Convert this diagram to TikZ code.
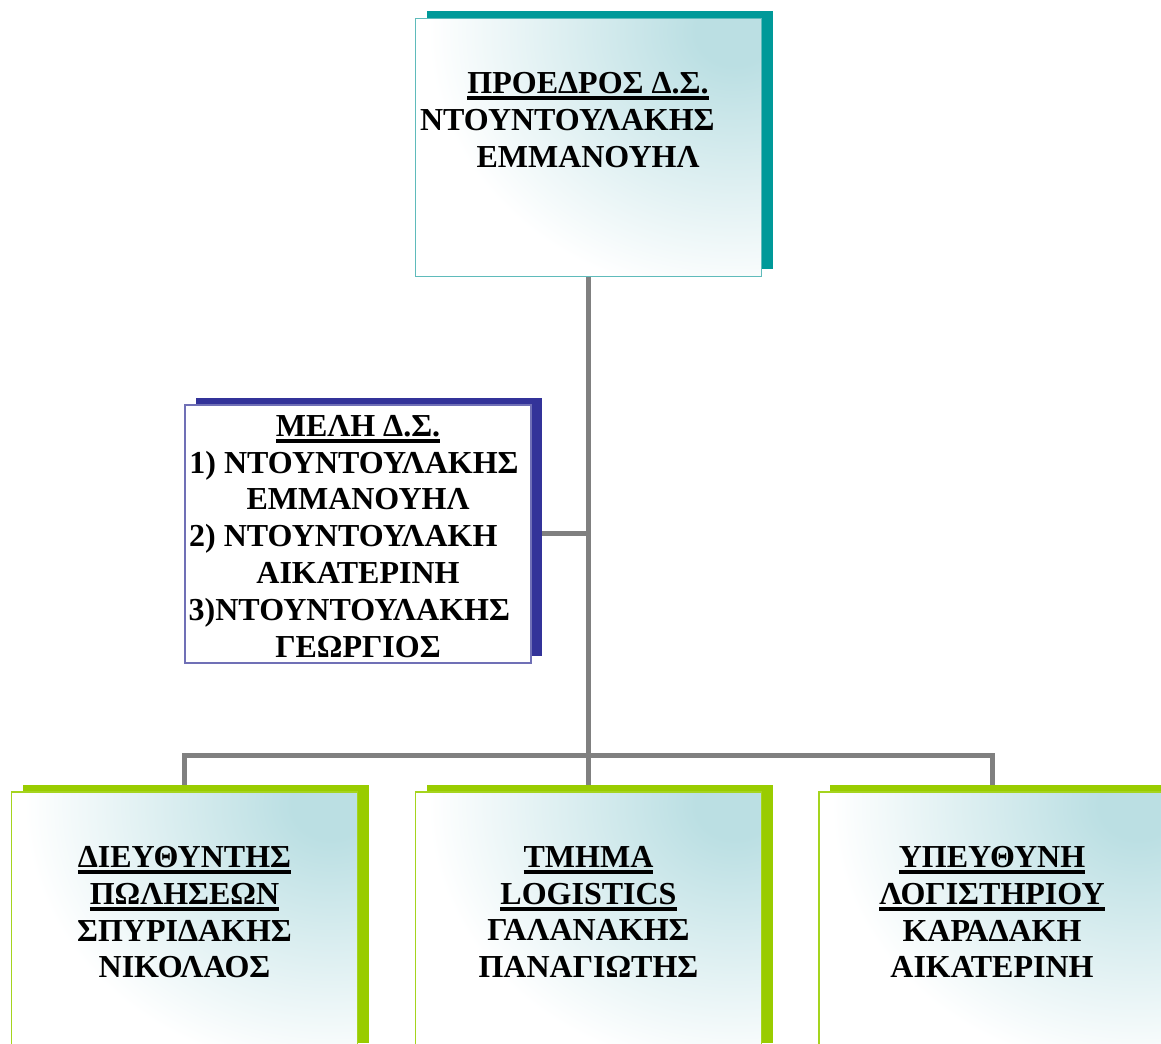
\documentclass[tikz,border=0pt]{standalone}
\usepackage{fontspec}
\setmainfont{Liberation Serif}
\usetikzlibrary{shadows}

% bold underline that runs the full width of its text
\newsavebox\ulinebox
\newcommand\ulinetext[1]{\sbox\ulinebox{#1}%
  \rlap{\rule[-4.8pt]{\wd\ulinebox}{2.6pt}}\usebox\ulinebox}

\definecolor{tealshade}{RGB}{0,153,153}
\definecolor{tealedge}{RGB}{95,187,187}
\definecolor{navyshade}{RGB}{51,51,153}
\definecolor{navyedge}{RGB}{112,112,182}
\definecolor{limeshade}{RGB}{153,204,0}
\definecolor{limeedge}{RGB}{165,212,30}
\definecolor{tint}{RGB}{187,223,227}
\definecolor{linkgray}{RGB}{128,128,128}

% tint that fades out to white well before the rim of the shaded ellipse
\pgfdeclareradialshading{cornerglow}{\pgfpoint{0bp}{0bp}}{%
  color(0bp)=(tint); color(3bp)=(tint); color(24bp)=(white); color(50bp)=(white)}

\pgfdeclarelayer{back}
\pgfsetlayers{back,main}

\tikzset{
  box/.style={rectangle, inner sep=0pt, minimum width=259.5pt,
    minimum height=193.5pt, line width=1.1pt},
  offshadow/.style={general shadow={fill=#1, draw=none,
    shadow xshift=8.25pt, shadow yshift=5.25pt}},
  glow/.style={fill=white, path picture={
    \shade[shading=cornerglow]
      ([xshift=-16pt,yshift=-10pt]path picture bounding box.north east)
      ellipse [x radius=235pt, y radius=208pt];}},
  tealbox/.style={box, draw=tealedge, glow, offshadow=tealshade},
  navybox/.style={box, draw=navyedge, fill=white, offshadow=navyshade},
  limebox/.style={box, draw=limeedge, glow, offshadow=limeshade},
  label/.style={inner sep=0pt, anchor=north, align=center,
    font=\bfseries\fontsize{24}{27.6}\selectfont},
  link/.style={draw=linkgray, line width=3.75pt, line join=miter}
}

\begin{document}
\begin{tikzpicture}[x=0.75pt, y=-0.75pt]
\useasboundingbox (0,0) rectangle (1161,1044);
\clip (0,0) rectangle (1161,1044);

% boxes
\node[tealbox] (pres) at (588.5,147.5) {};
\node[navybox] (members) at (358,534) {};
\node[limebox] (sales) at (184.5,921) {};
\node[limebox] (logi) at (588.5,921) {};
\node[limebox] (acct) at (992,921) {};

% box texts
\node[label] (pres-t) at (588,72)
  {\ulinetext{ΠΡΟΕΔΡΟΣ Δ.Σ.}\\
   \mbox{ΝΤΟΥΝΤΟΥΛΑΚΗΣ\hspace{31pt}}\\
   ΕΜΜΑΝΟΥΗΛ};
\node[label] (members-t) at (358,415)
  {\ulinetext{ΜΕΛΗ Δ.Σ.}\\
   \mbox{1) ΝΤΟΥΝΤΟΥΛΑΚΗΣ\hspace{6pt}}\\
   ΕΜΜΑΝΟΥΗΛ\\
   \mbox{2) ΝΤΟΥΝΤΟΥΛΑΚΗ\hspace{22pt}}\\
   ΑΙΚΑΤΕΡΙΝΗ\\
   \mbox{3)ΝΤΟΥΝΤΟΥΛΑΚΗΣ\hspace{13pt}}\\
   ΓΕΩΡΓΙΟΣ};
\node[label] (sales-t) at (184.5,846)
  {\ulinetext{ΔΙΕΥΘΥΝΤΗΣ}\\ \ulinetext{ΠΩΛΗΣΕΩΝ}\\ ΣΠΥΡΙΔΑΚΗΣ\\ ΝΙΚΟΛΑΟΣ};
\node[label] (logi-t) at (588.5,846)
  {\ulinetext{ΤΜΗΜΑ}\\ \ulinetext{LOGISTICS}\\ ΓΑΛΑΝΑΚΗΣ\\ ΠΑΝΑΓΙΩΤΗΣ};
\node[label] (acct-t) at (992,846)
  {\ulinetext{ΥΠΕΥΘΥΝΗ}\\ \ulinetext{ΛΟΓΙΣΤΗΡΙΟΥ}\\ ΚΑΡΑΔΑΚΗ\\ ΑΙΚΑΤΕΡΙΝΗ};

% connectors, kept behind the boxes and their shadows
\begin{pgfonlayer}{back}
  \fill[white] (0,0) rectangle (1161,1044);
  \coordinate (bus) at (588.5,755);
  \draw[link] (pres.south) -- (logi.north);
  \draw[link] (sales.north) |- (bus) -| (acct.north);
  \draw[link] (members.east) -- (members.east -| pres.south);
\end{pgfonlayer}
\end{tikzpicture}
\end{document}
